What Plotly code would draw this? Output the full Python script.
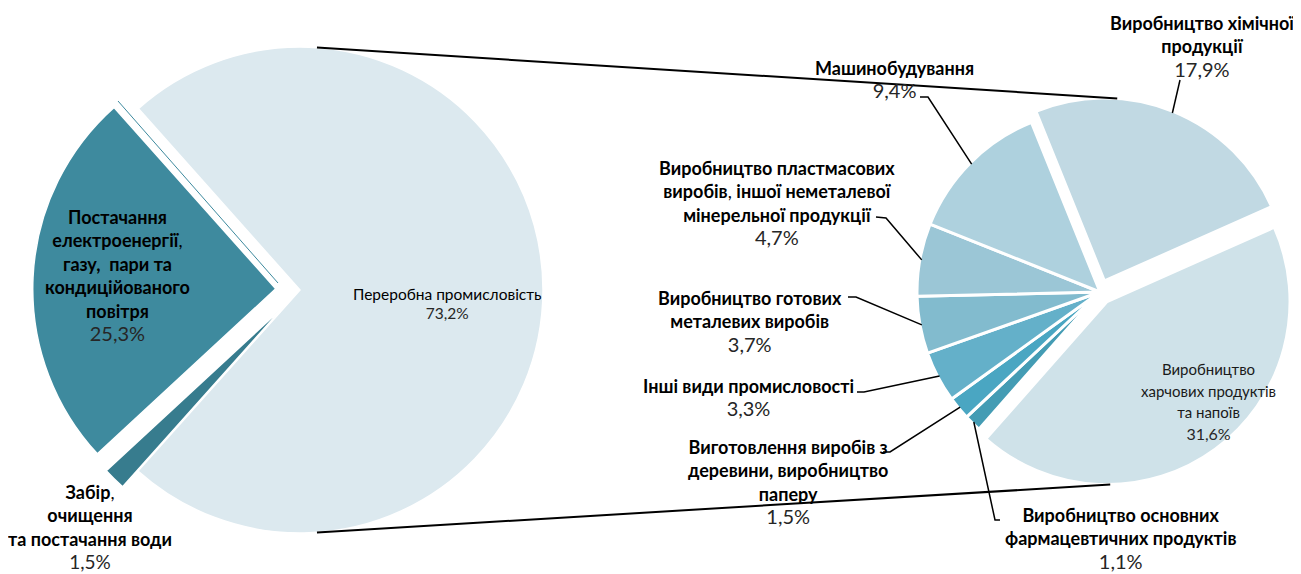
import math

import plotly.graph_objects as go

W, H = 1301, 574
OFF = 8  # відступ body у браузері

# --- дані: ліва діаграма (промисловість у цілому) ---
left_labels = [
    "Переробна промисловість",
    "Забір, очищення та постачання води",
    "Постачання електроенергії, газу, пари та кондиційованого повітря",
]
left_values = [73.2, 1.5, 25.3]
left_text = [
    "Переробна промисловість",
    "<b>Забір</b>,<br><b>очищення</b><br><b>та постачання води</b>",
    "<b>Постачання</b><br><b>електроенергії</b>,<br><b>газу,  пари та</b><br>"
    "<b>кондиційованого</b><br><b>повітря</b>",
]
left_pct = ["73,2%", "1,5%", "25,3%"]

# --- дані: права діаграма (переробна промисловість) ---
right_labels = [
    "Виробництво хімічної продукції",
    "Виробництво харчових продуктів та напоїв",
    "Виробництво основних фармацевтичних продуктів",
    "Виготовлення виробів з деревини, виробництво паперу",
    "Інші види промисловості",
    "Виробництво готових металевих виробів",
    "Виробництво пластмасових виробів, іншої неметалевої мінерельної продукції",
    "Машинобудування",
]
right_values = [17.9, 31.6, 1.1, 1.5, 3.3, 3.7, 4.7, 9.4]
right_text = [
    "<b>Виробництво хімічної</b><br><b>продукції</b>",
    "Виробництво<br>харчових продуктів<br>та напоїв",
    "<b>Виробництво основних</b><br><b>фармацевтичних продуктів</b>",
    "<b>Виготовлення виробів з</b><br><b>деревини, виробництво</b><br><b>паперу</b>",
    "<b>Інші види промисловості</b>",
    "<b>Виробництво готових</b><br><b>металевих виробів</b>",
    "<b>Виробництво пластмасових</b><br><b>виробів</b>, <b>іншої неметалевої</b><br>"
    "<b>мінерельної продукції</b>",
    "<b>Машинобудування</b>",
]
right_pct = ["17,9%", "31,6%", "1,1%", "1,5%", "3,3%", "3,7%", "4,7%", "9,4%"]

left_colors = ["#dce9ef", "#377c8e", "#3e8a9e"]
left_pull = [0, 0.09, 0.1]
right_colors = ["#c1d9e3", "#cfe2e9", "#449cb4", "#4aa6c2",
                "#64b0c9", "#82bbce", "#9bc6d6", "#aed1de"]
right_pull = [0.065, 0.065, 0, 0, 0, 0, 0, 0]

# геометрія (пікселі екрана)
L_CX, L_CY, L_R, L_ROT = 300, 290, 243, -41.7
R_CX, R_CY, R_R, R_ROT = 1100, 292, 183, -22

FONT = "Lato, 'Noto Sans', sans-serif"


def px(x, y):
    return (x - OFF) / W, 1 - (y - OFF) / H


def domain(cx, cy, r, pulls):
    half = r * (1 + max(pulls))
    x0, y1 = px(cx - half, cy - half)
    x1, y0 = px(cx + half, cy + half)
    return dict(x=[x0, x1], y=[y0, y1])


def slice_point(cx, cy, r, values, pulls, rot, i, frac=1.0, angle=None):
    total = sum(values)
    start = rot + 360 * sum(values[:i]) / total
    mid = start + 180 * values[i] / total
    a = math.radians(mid if angle is None else angle)
    b = math.radians(mid)
    ox = r * pulls[i] * math.sin(b)
    oy = -r * pulls[i] * math.cos(b)
    return cx + ox + r * frac * math.sin(a), cy + oy - r * frac * math.cos(a)


fig = go.Figure()

fig.add_trace(go.Pie(
    labels=left_labels, values=left_values, sort=False,
    direction="clockwise", rotation=L_ROT, pull=left_pull,
    marker=dict(colors=left_colors, line=dict(color="white", width=1.5)),
    textinfo="none", domain=domain(L_CX, L_CY, L_R, left_pull),
))

fig.add_trace(go.Pie(
    labels=right_labels, values=right_values, sort=False,
    direction="clockwise", rotation=R_ROT, pull=right_pull,
    marker=dict(colors=right_colors, line=dict(color="white", width=3)),
    textinfo="none", domain=domain(R_CX, R_CY, R_R, right_pull),
))

annotations = []
shapes = []


def add_label(text, pct, x, y, name_size=18, pct_size=20, base=18, color="#000000"):
    ax, ay = px(x, y)
    annotations.append(dict(
        x=ax, y=ay, xref="paper", yref="paper", showarrow=False,
        xanchor="center", yanchor="middle", align="center",
        text=f"<span style='font-size:{name_size}px'>{text}</span><br>"
             f"<span style='font-size:{pct_size}px;color:#262626'>{pct}</span>",
        font=dict(family=FONT, size=base, color=color),
    ))


def add_leader(points):
    coords = []
    for x, y in points:
        u, v = px(x, y)
        coords.append(f"{u:.5f},{v:.5f}")
    shapes.append(dict(type="path", path="M " + " L ".join(coords),
                       xref="paper", yref="paper",
                       line=dict(color="black", width=1.5)))


# підписи лівої діаграми
add_label(left_text[0], left_pct[0], 447, 303, name_size=15.5, pct_size=15.5, base=14.6)
add_label(left_text[2], left_pct[2], 117, 276)
add_label(left_text[1], left_pct[1], 90, 527, pct_size=19)

# підписи правої діаграми: (центр тексту) та злам виноски біля тексту
right_pos = [
    (1202, 46), (1208, 401), (1120, 538), (788, 482),
    (748, 397), (750, 321), (777, 203), (895, 80),
]
right_tail = [
    [(1180, 80)], None, [(1000, 520), (995, 520)], [(883, 452), (890, 452)],
    [(857, 392), (864, 392)], [(848, 297), (856, 297)], [(876, 217), (886, 218)],
    [(920, 97), (928, 97)],
]
for i, (x, y) in enumerate(right_pos):
    if i == 1:
        add_label(right_text[i], right_pct[i], x, y, name_size=15, pct_size=16, base=16.7,
                  color="#1a1a1a")
        continue
    add_label(right_text[i], right_pct[i], x, y)
    end = slice_point(R_CX, R_CY, R_R, right_values, right_pull, R_ROT, i, frac=0.99)
    add_leader(right_tail[i] + [end])

# з'єднувальні лінії між діаграмами
top_l = slice_point(L_CX, L_CY, L_R, left_values, left_pull, L_ROT, 0, angle=4)
top_r = slice_point(R_CX, R_CY, R_R, right_values, right_pull, R_ROT, 0, angle=4)
bot_l = slice_point(L_CX, L_CY, L_R, left_values, left_pull, L_ROT, 0, angle=176)
bot_r = slice_point(R_CX, R_CY, R_R, right_values, right_pull, R_ROT, 1, angle=179)
for a, b in [(top_l, top_r), (bot_l, bot_r)]:
    x0, y0 = px(*a)
    x1, y1 = px(*b)
    shapes.append(dict(type="line", xref="paper", yref="paper",
                       x0=x0, y0=y0, x1=x1, y1=y1,
                       line=dict(color="black", width=2)))

# тонка лінія біля сектора енергетики
x0, y0 = px(118, 101)
x1, y1 = px(278, 283)
shapes.append(dict(type="line", xref="paper", yref="paper",
                   x0=x0, y0=y0, x1=x1, y1=y1,
                   line=dict(color="#3e8a9e", width=1)))

fig.update_layout(
    width=W, height=H,
    margin=dict(l=0, r=0, t=0, b=0),
    paper_bgcolor="white",
    showlegend=False,
    annotations=annotations,
    shapes=shapes,
)

fig.write_html("out.html")
